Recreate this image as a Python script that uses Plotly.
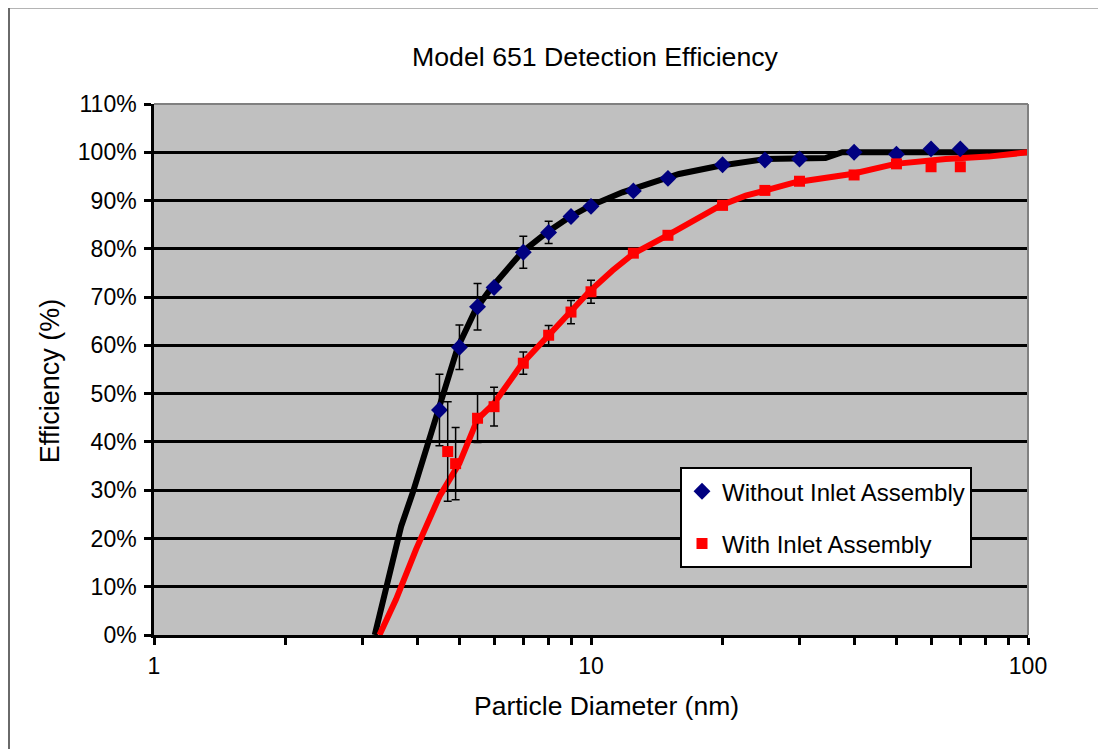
import plotly.graph_objects as go

# ---- data ----
diam_without = [4.5, 5, 5.5, 6, 7, 8, 9, 10, 12.5, 15, 20, 25, 30, 40, 50, 60, 70]
eff_without = [46.6, 59.6, 68.0, 72.0, 79.3, 83.4, 86.7, 88.8, 92.0, 94.6, 97.4, 98.4, 98.6, 100.0, 99.6, 100.7, 100.7]
err_without = [7.4, 4.6, 4.8, 0.0, 3.3, 2.3, 0.0, 0.0, 0.0, 0.0, 0.0, 0.0, 0.0, 0.0, 0.0, 0.0, 0.0]

diam_with = [4.7, 4.9, 5.5, 6, 7, 8, 9, 10, 12.5, 15, 20, 25, 30, 40, 50, 60, 70]
eff_with = [38.0, 35.5, 44.9, 47.3, 56.3, 62.1, 66.9, 71.1, 79.1, 82.8, 89.0, 92.1, 94.0, 95.3, 97.6, 97.0, 97.0]
err_with = [10.3, 7.5, 5.0, 4.0, 2.3, 2.0, 2.4, 2.4, 0.8, 0.0, 0.0, 0.0, 0.0, 0.0, 0.0, 0.0, 0.0]

fit_without_x = [3.2, 3.68, 3.91, 4.49, 4.95, 5.45, 5.95, 6.95, 7.95, 8.9, 9.9, 11.8, 15.9, 19.7, 25.1, 34.4, 37.6, 50, 70, 100]
fit_without_y = [0, 22.6, 29.5, 46.6, 59.5, 67.5, 72.2, 79.3, 83.5, 86.5, 88.8, 91.7, 95.5, 97.2, 98.6, 98.8, 100, 100, 100, 100]

fit_with_x = [3.28, 3.58, 3.98, 4.5, 5.0, 5.5, 6.0, 6.97, 8.0, 9.0, 9.9, 11.2, 12.5, 14.96, 19.8, 22.6, 29.4, 39.5, 49.7, 64.8, 81.2, 100]
fit_with_y = [0, 7.4, 17.8, 28.7, 35.6, 44.7, 48.0, 56.3, 62.1, 66.9, 71.1, 75.5, 79.0, 82.8, 89.0, 91.0, 93.8, 95.5, 97.6, 98.6, 99.1, 100]

x_tickvals = [1, 2, 3, 4, 5, 6, 7, 8, 9, 10, 20, 30, 40, 50, 60, 70, 80, 90, 100]
x_ticktext = ["1", "", "", "", "", "", "", "", "", "10", "", "", "", "", "", "", "", "", "100"]
y_tickvals = [0, 10, 20, 30, 40, 50, 60, 70, 80, 90, 100, 110]
y_ticktext = ["0%", "10%", "20%", "30%", "40%", "50%", "60%", "70%", "80%", "90%", "100%", "110%"]

FONT = "Liberation Sans, Arial, sans-serif"

fig = go.Figure()

fig.add_trace(go.Scatter(x=fit_without_x, y=fit_without_y, mode="lines",
                         line=dict(color="black", width=6), showlegend=False, hoverinfo="skip"))
fig.add_trace(go.Scatter(x=fit_with_x, y=fit_with_y, mode="lines",
                         line=dict(color="#ff0000", width=6), showlegend=False, hoverinfo="skip"))

fig.add_trace(go.Scatter(
    x=diam_without, y=eff_without, mode="markers", name="Without Inlet Assembly",
    legendgroup="a",
    marker=dict(symbol="diamond", size=13, color="#000080"),
    error_y=dict(type="data", array=err_without, visible=True, color="black", thickness=1.5, width=4),
))
fig.add_trace(go.Scatter(
    x=diam_with, y=eff_with, mode="markers", name="With Inlet Assembly",
    legendgroup="b",
    marker=dict(symbol="square", size=11, color="#ff0000"),
    error_y=dict(type="data", array=err_with, visible=True, color="black", thickness=1.5, width=4),
))

W, H = 1106, 749
OFF = 8  # page body margin offset
# target plot area in page pixels: x 154..1028, y 103.5..635
L = 154 - OFF
R = W - (1028 - OFF)
T = 103.5 - OFF
B = H - (635 - OFF)
pw, ph = W - L - R, H - T - B

def px_x(p):
    return (p - OFF - L) / pw

def px_y(p):
    return (H - B - (p - OFF)) / ph

shapes = [
    # outer chart border
    dict(type="rect", xref="paper", yref="paper",
         x0=px_x(9), x1=px_x(1099), y0=px_y(790), y1=px_y(7),
         line=dict(color="#6a6a6a", width=2), layer="above"),
    # plot area top and right borders (gray)
    dict(type="line", xref="paper", yref="paper", x0=0, x1=1, y0=1, y1=1,
         line=dict(color="#808080", width=2), layer="above"),
    dict(type="line", xref="paper", yref="paper", x0=1, x1=1, y0=0, y1=1,
         line=dict(color="#808080", width=2), layer="above"),
]

annotations = [
    dict(text="Particle Diameter (nm)", xref="paper", yref="paper",
         x=px_x(606), y=px_y(706), xanchor="center", yanchor="middle",
         showarrow=False, font=dict(size=26.5, family=FONT, color="black")),
    dict(text="Efficiency (%)", xref="paper", yref="paper",
         x=px_x(50), y=px_y(381), xanchor="center", yanchor="middle", textangle=-90,
         showarrow=False, font=dict(size=27, family=FONT, color="black")),
]

fig.update_layout(
    width=W, height=H,
    margin=dict(l=L, r=R, t=T, b=B, autoexpand=False),
    paper_bgcolor="white",
    plot_bgcolor="#c0c0c0",
    font=dict(family=FONT, color="black", size=23),
    title=dict(text="Model 651 Detection Efficiency", xref="paper", x=px_x(595), xanchor="center",
               yref="container", y=1 - (57 - OFF) / H, yanchor="middle",
               font=dict(size=26.7, family=FONT)),
    xaxis=dict(type="log", range=[0, 2], tickvals=x_tickvals, ticktext=x_ticktext,
               showgrid=False, zeroline=False, showline=True, linecolor="black", linewidth=2.5,
               ticks="outside", ticklen=7, tickwidth=2.5, tickcolor="black",
               tickfont=dict(size=23), ticklabelstandoff=2),
    yaxis=dict(range=[0, 110], tickvals=y_tickvals, ticktext=y_ticktext,
               showgrid=True, gridcolor="black", gridwidth=2.5, zeroline=False,
               showline=True, linecolor="black", linewidth=2.5,
               ticks="outside", ticklen=7, tickwidth=2.5, tickcolor="black",
               tickfont=dict(size=23), ticklabelstandoff=3),
    legend=dict(x=px_x(680), y=px_y(467), xanchor="left", yanchor="top",
                bgcolor="white", bordercolor="black", borderwidth=2,
                font=dict(size=24, family=FONT), tracegroupgap=18,
                itemsizing="trace"),
    shapes=shapes,
    annotations=annotations,
    showlegend=True,
)

fig.write_html("out.html")
